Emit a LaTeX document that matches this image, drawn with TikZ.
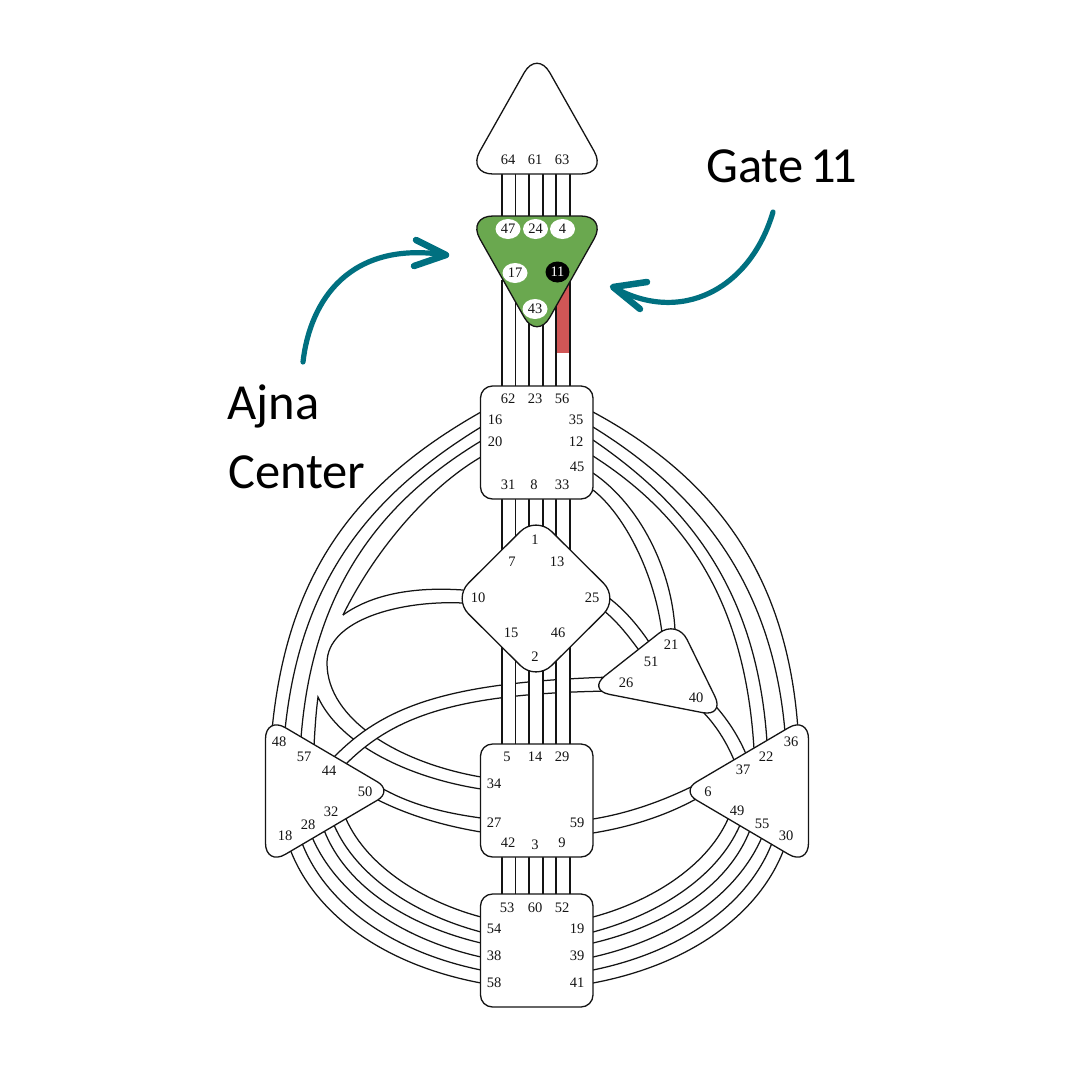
\documentclass[tikz,border=0pt]{standalone}
\usepackage{fontspec}
\setmainfont{Liberation Serif}
\newfontfamily\callout{Carlito}
\usetikzlibrary{shapes.geometric}
\definecolor{ajnagreen}{RGB}{106,168,79}
\definecolor{gatered}{RGB}{208,86,86}
\definecolor{teal1}{RGB}{0,112,128}
\definecolor{ink}{RGB}{20,20,20}
\tikzset{
  chan/.style={draw=ink,line width=1.25pt},
  vchan/.style={draw=ink,line width=1.05pt},
  centre/.style={draw=ink,line width=1.3pt,fill=white,rounded corners=26pt},
  boxcentre/.style={draw=ink,line width=1.3pt,fill=white,rectangle,rounded corners=12pt,minimum width=112.5pt,minimum height=113pt,inner sep=0pt},
  gate/.style={inner sep=0pt,font=\fontsize{14.5}{14.5}\selectfont,text=ink},
  oval/.style={ellipse,fill=white,minimum width=25pt,minimum height=20pt,inner sep=0pt,font=\fontsize{14.5}{14.5}\selectfont,text=ink},
  ovalon/.style={ellipse,fill=black,minimum width=24pt,minimum height=21pt,inner sep=0pt,font=\fontsize{14.5}{14.5}\selectfont,text=white},
  callouttext/.style={inner sep=0pt,anchor=base west,font=\callout\fontsize{50.5}{50.5}\selectfont,text=black},
  pointer/.style={draw=teal1,line width=5.2pt,line cap=round,line join=round},
  pointerhead/.style={draw=teal1,line width=6.5pt,line cap=round,line join=round},
}
\begin{document}
\begin{tikzpicture}[x=1pt,y=-1pt]
\useasboundingbox (0,0) rectangle (1080,1080);
\fill[white] (0,0) rectangle (1080,1080);

% vertical coordinates
\foreach \i/\x in {1/502,2/515.5,3/529,4/543,5/556,6/570}{
  \coordinate (ha\i) at (\x,174);
  \coordinate (ab\i) at (\x,216);
  \coordinate (ac\i) at (\x,280);
  \coordinate (tt\i) at (\x,386);
  \coordinate (tb\i) at (\x,499);
  \coordinate (ss\i) at (\x,744);
  \coordinate (sb\i) at (\x,857);
  \coordinate (rt\i) at (\x,894);
}
\coordinate (redA) at (556,280); \coordinate (redB) at (570,353);
\fill[gatered] (redA) rectangle (redB);

% left upper arcs
\coordinate (L1a) at (481,412); \coordinate (L1b) at (272,730);
\coordinate (L2a) at (481,427); \coordinate (L2b) at (285,730);
\coordinate (L3a) at (481,441); \coordinate (L3b) at (301,738);
\coordinate (L4a) at (481,457); \coordinate (L4b) at (343,615);
\draw[chan] (L1a) .. controls (352,485) and (287,576) .. (L1b);
\draw[chan] (L2a) .. controls (365,498) and (300,585) .. (L2b);
\draw[chan] (L3a) .. controls (375,505) and (312,595) .. (L3b);
\draw[chan] (L4a) .. controls (428,488) and (375,550) .. (L4b);
% 10 - 34 loop
\coordinate (T10) at (463,590); \coordinate (B10) at (463,603);
\coordinate (Lp) at (327,663); \coordinate (U34) at (481,777);
\coordinate (L34) at (481,789); \coordinate (Sp) at (318,697); \coordinate (S57) at (314,746);
\draw[chan] (T10) .. controls (420,587) and (375,592) .. (L4b);
\draw[chan] (B10) .. controls (400,600) and (327,620) .. (Lp) .. controls (327,720) and (400,763) .. (U34);
\draw[chan] (L34) .. controls (410,778) and (340,745) .. (Sp) .. controls (316,712) and (315,728) .. (S57);

% 44 - 26 channel
\coordinate (U44) at (334,757); \coordinate (U26) at (612,677);
\coordinate (D44) at (346,764); \coordinate (D26) at (612,691);
\fill[white] (U44) .. controls (385,705) and (450,682) .. (U26) -- (D26) .. controls (460,693) and (395,715) .. (D44) -- cycle;
\draw[chan] (U44) .. controls (385,705) and (450,682) .. (U26);
\draw[chan] (D44) .. controls (395,715) and (460,693) .. (D26);

% 25 - 51
\coordinate (U25) at (609,598); \coordinate (U51) at (651,645);
\coordinate (D25) at (603,610); \coordinate (D51) at (641,653);
\draw[chan] (U25) .. controls (625,610) and (640,628) .. (U51);
\draw[chan] (D25) .. controls (618,622) and (630,638) .. (D51);

% 45 - 21
\coordinate (U45) at (593,473); \coordinate (U21) at (675,630);
\coordinate (D45) at (593,490); \coordinate (D21) at (662,633);
\draw[chan] (U45) .. controls (640,505) and (672,570) .. (U21);
\draw[chan] (D45) .. controls (625,515) and (655,575) .. (D21);

% right upper arcs
\coordinate (R1a) at (593,412); \coordinate (R1b) at (798,730);
\coordinate (R2a) at (593,427); \coordinate (R2b) at (785,732);
\coordinate (R3a) at (593,440); \coordinate (R3b) at (767,742);
\coordinate (R4a) at (593,456); \coordinate (R4b) at (754,749);
\draw[chan] (R1a) .. controls (710,475) and (787,570) .. (R1b);
\draw[chan] (R2a) .. controls (695,490) and (772,580) .. (R2b);
\draw[chan] (R3a) .. controls (688,505) and (757,590) .. (R3b);
\draw[chan] (R4a) .. controls (685,515) and (745,600) .. (R4b);

% 40 - 37
\coordinate (U40) at (711,701); \coordinate (U37) at (746,754);
\coordinate (D40) at (702,711); \coordinate (D37) at (734,760);
\draw[chan] (U40) .. controls (725,716) and (737,733) .. (U37);
\draw[chan] (D40) .. controls (715,724) and (726,741) .. (D37);

% 50 - 27
\coordinate (U50) at (378,786); \coordinate (U27) at (481,818);
\coordinate (D50) at (378,800); \coordinate (D27) at (481,832);
\draw[chan] (U50) .. controls (410,805) and (445,813) .. (U27);
\draw[chan] (D50) .. controls (410,816) and (445,826) .. (D27);

% 59 - 6
\coordinate (U59) at (593,819); \coordinate (U6) at (695,785);
\coordinate (D59) at (593,833); \coordinate (D6) at (696,799);
\draw[chan] (U59) .. controls (630,813) and (665,800) .. (U6);
\draw[chan] (D59) .. controls (630,827) and (665,816) .. (D6);

% lower arcs
\foreach \i/\sx/\sy/\ax/\ay/\bx/\by/\ey in {
  0/290/849/315/915/385/965/983,
  1/302/843/326/905/393/952/970,
  2/312/837/337/895/401/939/957,
  3/324/830/346/887/409/926/943,
  4/334/825/357/878/417/915/932,
  5/346/819/368/868/425/902/917}{
  \coordinate (LS\i) at (\sx,\sy); \coordinate (LE\i) at (481,\ey);
  \coordinate (RS\i) at ({1074-\sx},\sy); \coordinate (RE\i) at (593,\ey);
  \draw[chan] (LS\i) .. controls (\ax,\ay) and (\bx,\by) .. (LE\i);
  \draw[chan] (RS\i) .. controls ({1074-\ax},\ay) and ({1074-\bx},\by) .. (RE\i);
}

% vertical channels
\foreach \i in {1,...,6}{
  \draw[vchan] (ha\i) -- (ab\i);
  \draw[vchan] (ac\i) -- (tt\i);
  \draw[vchan] (sb\i) -- (rt\i);
}
\foreach \p/\q in {1/2,3/4,5/6}{
  \fill[white] (tb\p) rectangle (ss\q);
  \draw[vchan] (tb\p) -- (ss\p);
  \draw[vchan] (tb\q) -- (ss\q);
}

% centres
\draw[centre] (467,174) -- (537,50) -- (607,174) -- cycle;
\draw[centre,fill=ajnagreen] (467,216) -- (607,216) -- (537,340) -- cycle;
\node[boxcentre] (throat) at (536.75,442.5) {};
\draw[centre,rounded corners=22pt] (536,516) -- (619,598.5) -- (536,681) -- (453,598.5) -- cycle;
\draw[centre,rounded corners=23pt] (677,619) -- (725,717) -- (587,690) -- cycle;
\node[boxcentre] (sacral) at (536.75,800.5) {};
\node[boxcentre] (root) at (536.75,950.5) {};
\draw[centre] (265.5,791) [rounded corners=23pt] -- (265.5,716) [rounded corners=18pt] -- (393,791) [rounded corners=23pt] -- (265.5,866) -- cycle;
\draw[centre] (808.5,791) [rounded corners=23pt] -- (808.5,716) [rounded corners=18pt] -- (681,791) [rounded corners=23pt] -- (808.5,866) -- cycle;

% ajna gates
\node[oval] (g47) at (508,229) {47};
\node[oval] (g24) at (535.5,229) {24};
\node[oval] (g4) at (562.5,229) {4};
\node[oval] (g17) at (515,273) {17};
\node[ovalon] (g11) at (557.5,272) {11};
\node[oval] (g43) at (535,309) {43};

% gate labels
\foreach \n/\x/\y in {
 64/508/160,61/535/160,63/562/160,
 62/508/399,23/535/399,56/562/399,16/495/420,20/495/442,35/576/420,12/576/442,45/577/467,31/508/485,8/534/485,33/562/485,
 1/535/540,7/512/562,13/557/562,10/478/598,25/592/598,15/511/633,46/558/633,2/535/657,
 21/671/645,51/651/662,26/626/683,40/696/698,
 48/279/742,57/304/757,44/329/771,50/365/792,32/331/812,28/308/825,18/285/836,
 36/791/742,22/766/757,37/743/770,6/708/792,49/737/811,55/762/824,30/786/836,
 5/507/757,14/535/757,29/562/757,34/494/784,27/494/823,59/577/823,42/508/843,3/535/845,9/562/843,
 53/507/908,60/535/908,52/562/908,54/494/929,38/494/956,58/494/983,19/577/929,39/577/956,41/577/983}{
  \node[gate] (g\n) at (\x,\y) {\n};
}

% callouts
\node[callouttext] (gatetxt) at (706,182) {Gate\kern-4pt{} 1\kern-5pt{}1};
\node[callouttext] (ajnatxt) at (227,419) {Ajna};
\node[callouttext] (centertxt) at (228,488) {Center};

\coordinate (A1s) at (303,362); \coordinate (A1t) at (446,255);
\coordinate (A1u) at (416,240); \coordinate (A1d) at (414,266);
\draw[pointer] (A1s) .. controls (310,300) and (350,240) .. (A1t);
\draw[pointerhead] (A1u) -- (A1t) -- (A1d);
\coordinate (A2s) at (773,212); \coordinate (A2t) at (613,287);
\coordinate (A2u) at (647,282); \coordinate (A2d) at (640,309);
\draw[pointer] (A2s) .. controls (750,290) and (680,325) .. (A2t);
\draw[pointerhead] (A2u) -- (A2t) -- (A2d);
\end{tikzpicture}
\end{document}
